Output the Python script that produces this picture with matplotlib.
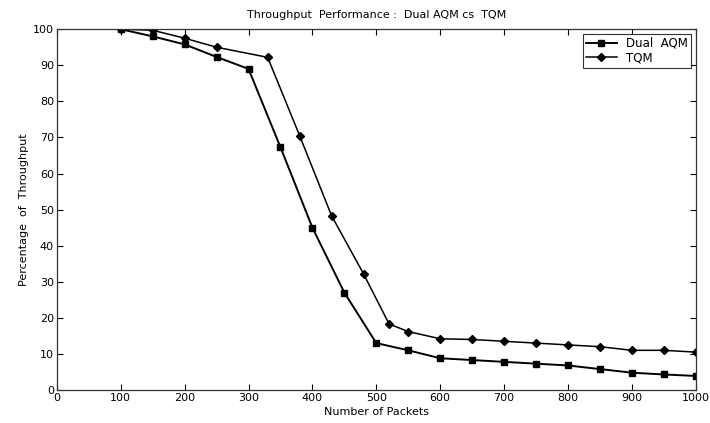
import matplotlib
matplotlib.use('Agg')
import matplotlib.pyplot as plt

plt.rcParams['font.family'] = ['DejaVu Sans']

# data
dual_x = [100, 150, 200, 250, 300, 350, 400, 450, 500, 550, 600, 650, 700, 750, 800, 850, 900, 950, 1000]
dual_y = [100, 98, 95.8, 92.3, 89, 67.3, 45, 27, 13, 11, 8.8, 8.3, 7.8, 7.3, 6.8, 5.8, 4.8, 4.3, 3.9]

tqm_x = [100, 150, 200, 250, 330, 380, 430, 480, 520, 550, 600, 650, 700, 750, 800, 850, 900, 950, 1000]
tqm_y = [100, 99.7, 97.5, 95, 92.2, 70.5, 48.3, 32.2, 18.3, 16.2, 14.2, 14, 13.5, 13, 12.5, 12, 11, 11, 10.5]

fig = plt.figure(figsize=(7.1, 4.23), dpi=100)
ax = fig.add_axes([0.080, 0.078, 0.900, 0.853])

ax.plot(dual_x, dual_y, color='black', linewidth=1.4, marker='s', markersize=4.5, label='Dual  AQM')
ax.plot(tqm_x, tqm_y, color='black', linewidth=1.1, marker='D', markersize=4.5, label='TQM')

ax.set_xlim(0, 1000)
ax.set_ylim(0, 100)
ax.set_xticks(range(0, 1001, 100))
ax.set_yticks(range(0, 101, 10))
ax.tick_params(direction='in', labelsize=8, length=4, top=True, right=True, pad=2)
for s in ax.spines.values():
    s.set_linewidth(0.9)
    s.set_color('#333333')

ax.set_xlabel('Number of Packets', fontsize=8, labelpad=3)
ax.set_ylabel('Percentage  of  Throughput', fontsize=8, labelpad=3)
ax.set_title('Throughput  Performance :  Dual AQM cs  TQM', fontsize=8, pad=8)

leg = ax.legend(loc='upper right', fontsize=8.5, fancybox=False, edgecolor='black',
                borderpad=0.25, handlelength=2.6, labelspacing=0.15, borderaxespad=0.4)
leg.get_frame().set_linewidth(0.8)

fig.savefig('out.png', dpi=100)
